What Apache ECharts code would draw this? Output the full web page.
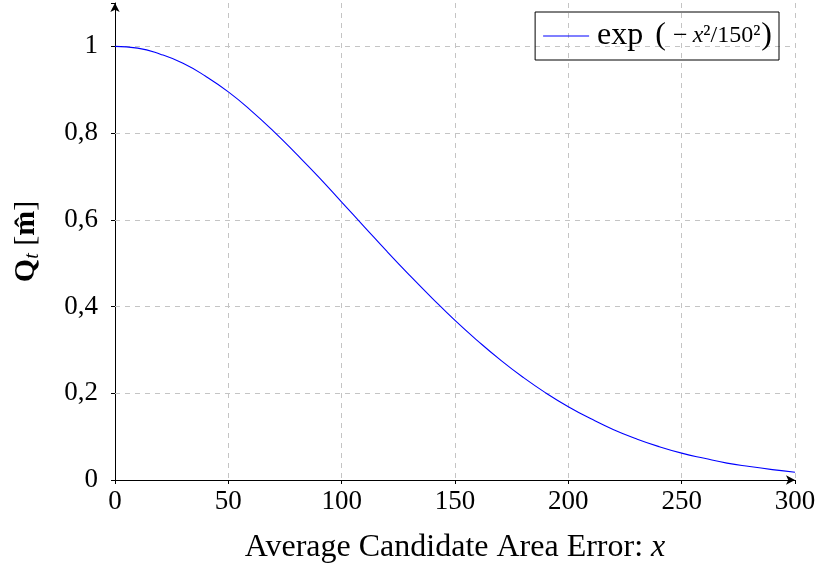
<!DOCTYPE html>
<html>
<head>
<meta charset="utf-8">
<script src="https://cdn.jsdelivr.net/npm/echarts@6/dist/echarts.min.js"></script>
<style>html,body{margin:0;padding:0;background:#fff;}#chart{width:817px;height:565px;}</style>
</head>
<body>
<div id="chart"></div>
<script>
// Data
var xValues = [0,10,20,30,40,50,60,70,80,90,100,110,120,130,140,150,160,170,180,190,200,210,220,230,240,250,260,270,280,290,300];
var yValues = [1.000,0.996,0.982,0.961,0.931,0.895,0.852,0.804,0.752,0.698,0.641,0.584,0.527,0.472,0.419,0.368,0.321,0.277,0.237,0.201,0.169,0.141,0.116,0.095,0.077,0.062,0.050,0.039,0.031,0.024,0.018];
var xTicks = [0,50,100,150,200,250,300];
var yGridValues = [0.2,0.4,0.6,0.8,1.0];
var seriesName = 'exp';

var FONT = '"Liberation Serif", "DejaVu Serif", serif';
var chart = echarts.init(document.getElementById('chart'), null, {renderer:'canvas'});
var pts = xValues.map(function(x,i){return [x, yValues[i]];});
var option = {
  animation: false,
  backgroundColor: '#fff',
  textStyle: {fontFamily: FONT, color: '#000'},
  grid: {left: 115, right: 22, top: 3, bottom: 85, containLabel: false, outerBoundsMode: 'none'},
  legend: {
    show: true,
    right: 38, top: 12,
    orient: 'vertical',
    padding: [8, 7, 8, 8],
    borderColor: '#000', borderWidth: 1,
    itemWidth: 46, itemHeight: 1.2,
    icon: 'rect',
    itemGap: 0,
    data: [{name: seriesName, itemStyle: {color: '#0000ff'}}],
    textStyle: {
      fontFamily: FONT, fontSize: 32, color: '#000',
      rich: {
        e: {fontFamily: FONT, fontSize: 32, color: '#000', padding: [0, 12, 0, 3]},
        p: {fontFamily: FONT, fontSize: 32, color: '#000'},
        m: {fontFamily: FONT, fontSize: 26, color: '#000', padding: [0, 5, 0, 7]},
        i: {fontFamily: FONT, fontSize: 24, fontStyle: 'italic', color: '#000'},
        s: {fontFamily: FONT, fontSize: 24, color: '#000', padding: [0, 1, 0, 0]}
      }
    },
    formatter: function(){ return '{e|exp}{p|(}{m|−}{i|x}{s|²/150²}{p|)}'; }
  },
  xAxis: {
    type: 'value', min: 0, max: 300, interval: 50,
    axisLine: {show: true, onZero: false, lineStyle: {color: '#000', width: 1}, symbol: ['none','arrow'], symbolSize: [7, 9]},
    axisTick: {show: true, length: 4, lineStyle: {color: '#000'}},
    axisLabel: {fontFamily: FONT, fontSize: 27, color: '#000', margin: 8},
    splitLine: {show: true, lineStyle: {color: '#c4c4c4', type: [5,5], width: 1}},
    name: 'Average Candidate Area Error: {it|x}',
    nameLocation: 'middle', nameGap: 52,
    nameTextStyle: {fontFamily: FONT, fontSize: 32, color: '#000',
      rich: {it: {fontFamily: FONT, fontSize: 32, fontStyle: 'italic', color: '#000'}}}
  },
  yAxis: {
    type: 'value', min: 0, max: 1.1, interval: 0.2,
    axisLine: {show: true, onZero: false, lineStyle: {color: '#000', width: 1}, symbol: ['none','arrow'], symbolSize: [7, 9]},
    axisTick: {show: true, length: 4, lineStyle: {color: '#000'}},
    axisLabel: {fontFamily: FONT, fontSize: 27, color: '#000', margin: 17,
      formatter: function(v){
        var r = Math.round(v*10)/10;
        if (Math.abs(r*5 - Math.round(r*5)) > 1e-6) return '';
        if (r > 1.05) return '';
        return String(r).replace('.', ',');
      }},
    splitLine: {show: false},
    name: '{b|Q}{t|t} {n|[}{b|m̂}{n|]}',
    nameLocation: 'middle', nameGap: 72, nameRotate: 90,
    nameTextStyle: {fontFamily: FONT, fontSize: 30, color: '#000',
      rich: {
        b: {fontFamily: FONT, fontSize: 30, fontWeight: 'bold', color: '#000'},
        t: {fontFamily: FONT, fontSize: 20, fontStyle: 'italic', color: '#000', padding: [13,0,0,0]},
        n: {fontFamily: FONT, fontSize: 30, color: '#000'}
      }}
  },
  series: [{
    name: seriesName,
    type: 'line',
    data: pts,
    smooth: true,
    symbol: 'none',
    lineStyle: {color: '#0000ff', width: 1.1},
    itemStyle: {color: '#0000ff'},
    markLine: {
      silent: true, symbol: ['none','none'], label: {show: false},
      lineStyle: {color: '#c4c4c4', type: [5,5], width: 1},
      z: 1,
      data: yGridValues.map(function(v){return {yAxis: v};})
    },
    z: 5
  }]
};
chart.setOption(option);
</script>
</body>
</html>
